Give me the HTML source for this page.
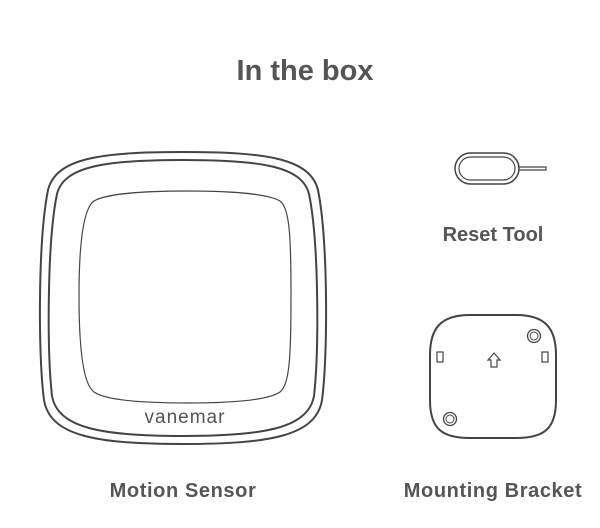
<!DOCTYPE html>
<html><head><style>
body{margin:0;width:600px;height:528px;background:#fff;overflow:hidden}
svg{display:block}
text{font-family:"Liberation Sans",sans-serif;fill:#555}
</style></head><body>
<svg width="600" height="528" viewBox="0 0 600 528">
<text x="305" y="80" text-anchor="middle" font-size="29" font-weight="bold" fill="#666">In the box</text>
<g fill="none" stroke="#444">
<path d="M183,152 C265,152 310,158 318,190 C328,240 328,355 322,400 C316,436 270,444 183,444 C96,444 50,436 44,400 C38,355 38,240 48,190 C56,158 101,152 183,152Z" stroke-width="2"/>
<path d="M183,160 C260,160 302,166 309,194 C319,242 319,351 314,396 C308,428 265,436 183,436 C101,436 58,428 52,396 C47,351 47,242 57,194 C64,166 106,160 183,160Z" stroke-width="2"/>
<path d="M187,191 C240,191 270,195 280,201 C290,208 291,240 291,296 C291,352 290,385 280,392 C270,399 240,403 187,403 C134,403 104,399 94,392 C84,385 79,352 79,296 C79,240 84,208 94,201 C104,195 134,191 187,191Z" stroke-width="1.2"/>
<rect x="455" y="153" width="64" height="31" rx="15.5" stroke-width="1.5"/>
<rect x="459" y="157" width="56" height="23" rx="11.5" stroke-width="1.2"/>
<path d="M519,167 H546 V170 H519" stroke-width="1.2"/>
<path d="M470,315 H516 C545,315 556,328 556,355 V400 C556,428 545,438 516,438 H470 C441,438 430,428 430,400 V355 C430,328 441,315 470,315Z" stroke-width="2"/>
<circle cx="534" cy="336" r="6.5" stroke-width="1.3"/><circle cx="534" cy="336" r="4" stroke-width="1"/>
<circle cx="450" cy="419" r="6.5" stroke-width="1.3"/><circle cx="450" cy="419" r="4" stroke-width="1"/>
<rect x="437" y="352" width="6" height="10" stroke-width="1.2"/>
<rect x="542" y="352" width="6" height="10" stroke-width="1.2"/>
<path d="M491,367 V360 H488 L494,353 L500,360 H497 V367Z" stroke-width="1.2"/>
</g>
<text x="185" y="423" text-anchor="middle" font-size="19" fill="#555" letter-spacing="1">vanemar</text>
<text x="493" y="241" text-anchor="middle" font-size="20" font-weight="bold">Reset Tool</text>
<text x="183" y="497" text-anchor="middle" font-size="20" font-weight="bold" letter-spacing="0.6">Motion Sensor</text>
<text x="493" y="497" text-anchor="middle" font-size="20" font-weight="bold" letter-spacing="0.6">Mounting Bracket</text>
</svg>
</body></html>
